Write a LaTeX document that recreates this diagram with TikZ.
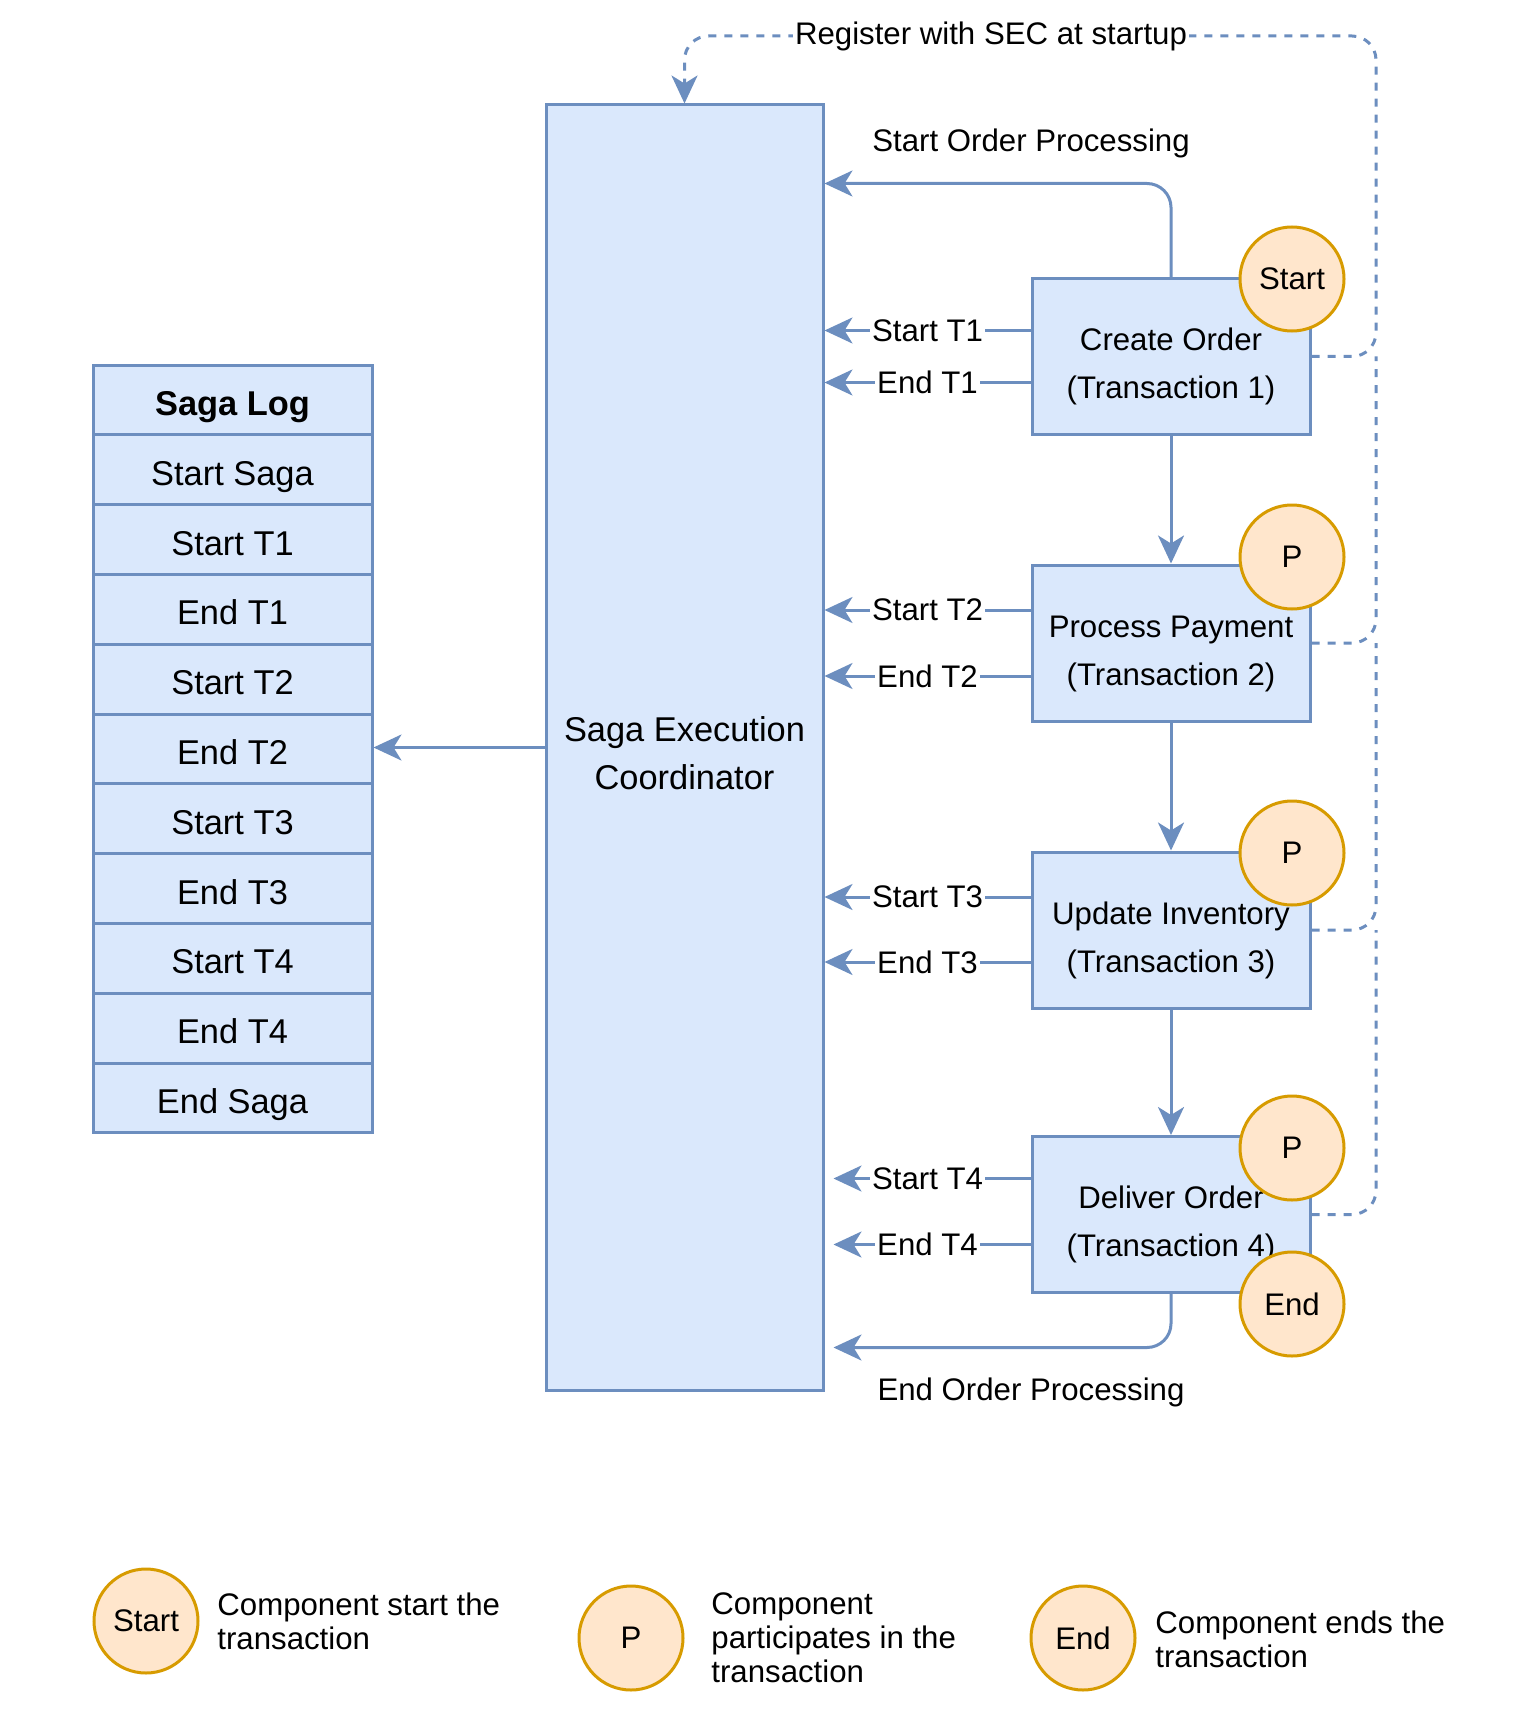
\documentclass[tikz,border=0pt]{standalone}
\usepackage{fontspec}
\setmainfont{Liberation Sans}
\usetikzlibrary{arrows.meta,calc}

\definecolor{boxfill}{HTML}{DAE8FC}
\definecolor{boxline}{HTML}{6C8EBF}
\definecolor{dotfill}{HTML}{FFE6CC}
\definecolor{dotline}{HTML}{D79B00}

\newcommand\txstrut{\rule{0pt}{21.5pt}}

\tikzset{
  logrow/.style={draw=boxline, fill=boxfill, line width=1.5pt, minimum width=139.5pt,
    minimum height=34.9pt, inner sep=0pt, text height=16pt, text depth=0.4pt,
    font=\fontsize{17.2}{20}\selectfont},
  txbox/.style={draw=boxline, fill=boxfill, line width=1.5pt, minimum width=139pt,
    minimum height=78pt, align=center, font=\fontsize{15.6}{24}\selectfont},
  badge/.style={circle, draw=dotline, fill=dotfill, line width=1.5pt, minimum size=52pt,
    inner sep=0pt, font=\fontsize{15.6}{18}\selectfont},
  tip/.style={-{Stealth[length=14pt,width=13pt,inset=4pt]}},
  flow/.style={draw=boxline, line width=1.5pt, tip},
  regline/.style={draw=boxline, line width=1.5pt, dash pattern=on 4pt off 4pt, rounded corners=12pt},
  lbl/.style={fill=white, inner sep=1pt, font=\fontsize{15.6}{18}\selectfont},
  note/.style={anchor=west, align=left, inner sep=0pt, font=\fontsize{15.6}{17}\selectfont}
}

\begin{document}
\begin{tikzpicture}[x=0.5pt,y=-0.5pt]
  \useasboundingbox (0,0) rectangle (1512,1722);

  % coordinator
  \node[draw=boxline, fill=boxfill, line width=1.5pt, minimum width=138.5pt, minimum height=642.5pt,
    align=center, font=\fontsize{17.2}{24}\selectfont] (sec) at (684.5,747.5)
    {\rule{0pt}{18pt}Saga Execution\\Coordinator};

  % saga log
  \node[logrow, font=\fontsize{17.2}{20}\selectfont\bfseries] (log0) at (232.5,399.9) {Saga Log};
  \foreach \txt [count=\i] in {Start Saga,Start T1,End T1,Start T2,End T2,Start T3,End T3,Start T4,End T4,End Saga}
    \node[logrow] (log\i) at (232.5,{399.9+69.8*\i}) {\txt};
  \draw[flow] (sec.west) -- (sec.west -| log5.east);

  % transactions
  \node[txbox] (co) at (1171,356.5) {\txstrut Create Order\\(Transaction 1)};
  \node[txbox] (pp) at (1171,643) {\txstrut Process Payment\\(Transaction 2)};
  \node[txbox] (ui) at (1171,930) {\txstrut Update Inventory\\(Transaction 3)};
  \node[txbox] (do) at (1171,1214.5) {\txstrut Deliver Order\\(Transaction 4)};
  \draw[flow] (co.south) -- (pp.north);
  \draw[flow] (pp.south) -- (ui.north);
  \draw[flow] (ui.south) -- (do.north);

  \foreach \bx/\num/\up/\dn/\sh in {co/1/13/13/0, pp/2/16.5/16.5/0, ui/3/16.5/16/0, do/4/18/15/4.5} {
    \draw[flow, shorten >=\sh pt] ([yshift=\up pt]\bx.west) -- ([yshift=\up pt]\bx.west -| sec.east)
      node[lbl, midway] {Start T\num};
    \draw[flow, shorten >=\sh pt] ([yshift=-\dn pt]\bx.west) -- ([yshift=-\dn pt]\bx.west -| sec.east)
      node[lbl, midway] {End T\num};
  }

  \draw[flow, rounded corners=12pt] (co.north) |- ([yshift=-40pt]sec.north east);
  \node[lbl] (soplbl) at (1031,143) {Start Order Processing};
  \draw[flow, rounded corners=12pt, shorten >=4.5pt] (do.south) |- ([yshift=22pt]sec.south east);
  \node[lbl] (eoplbl) at (1031,1392) {End Order Processing};

  % registration
  \coordinate (bus) at (1376,36);
  \draw[regline, tip] (co.east) -| (bus) -| (sec.north);
  \draw[regline] (pp.east) -| (bus |- co.east);
  \draw[regline] (ui.east) -| (bus |- pp.east);
  \draw[regline] (do.east) -| (bus |- ui.east);
  \node[lbl] (reglbl) at (991,36) {Register with SEC at startup};

  % badges
  \node[badge] (b1) at (1292,279) {Start};
  \node[badge] (b2) at (1292,557) {P};
  \node[badge] (b3) at (1292,853) {P};
  \node[badge] (b4) at (1292,1148) {P};
  \node[badge] (b5) at (1292,1304) {End};

  % legend
  \node[badge] (kstart) at (146,1621) {Start};
  \node[note] (kstartt) at (217,1621) {Component start the\\transaction};
  \node[badge] (kp) at (631,1638) {P};
  \node[note] (kpt) at (711,1638) {Component\\participates in the\\transaction};
  \node[badge] (kend) at (1083,1638) {End};
  \node[note] (kendt) at (1155,1639) {Component ends the\\transaction};
\end{tikzpicture}
\end{document}
